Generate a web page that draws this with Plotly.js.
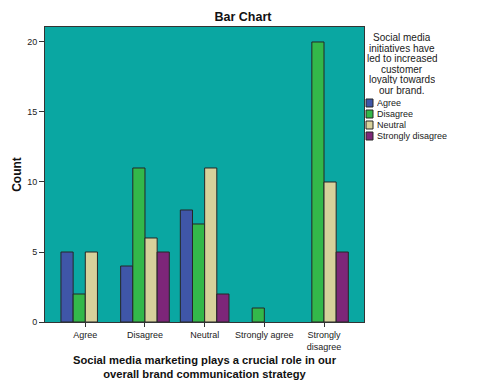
<!DOCTYPE html>
<html>
<head>
<meta charset="utf-8">
<script src="https://cdn.plot.ly/plotly-3.0.1.min.js"></script>
<style>html,body{margin:0;padding:0;background:#fff;}#chart{width:486px;height:388px;}</style>
</head>
<body>
<div id="chart"></div>
<script>
// Categories (x axis): "Social media marketing plays a crucial role..."
const categories = ["Agree", "Disagree", "Neutral", "Strongly agree", "Strongly disagree"];
const tickLabels = ["Agree", "Disagree", "Neutral", "Strongly agree", "Strongly<br>disagree"];

// Series (legend): "Social media initiatives have led to increased customer loyalty..."
const seriesNames = ["Agree", "Disagree", "Neutral", "Strongly disagree"];
const agreeVals           = [5, 4, 8, null, null];
const disagreeVals        = [2, 11, 7, 1, 20];
const neutralVals         = [5, 6, 11, null, 10];
const stronglyDisagreeVals= [null, 5, 2, null, 5];
const seriesValues = [agreeVals, disagreeVals, neutralVals, stronglyDisagreeVals];
const seriesColors = ["#3F56A8", "#33B84A", "#D7D19B", "#7D2679"];

const legendTitleLines = ["Social media", "initiatives have", "led to increased", "customer", "loyalty towards", "our brand."];

const FONT = "Arial, 'Liberation Sans', sans-serif";
const W = 486, H = 388;
const L = 45, R = 364, T = 27, B = 322;
const xp = px => (px - L) / (R - L);
const yp = py => (B - py) / (B - T);

const idx = categories.map((c, i) => i);
const traces = seriesNames.map((name, s) => ({
  type: "bar",
  name: name,
  x: idx,
  y: seriesValues[s],
  marker: {color: seriesColors[s], line: {color: "#262626", width: 1}},
  showlegend: false,
  hoverinfo: "x+y+name"
}));

const annotations = [];
const shapes = [];
legendTitleLines.forEach((line, i) => {
  annotations.push({
    xref: "paper", yref: "paper", x: xp(402), y: yp(37 + i * 10.6),
    xanchor: "center", yanchor: "middle", showarrow: false, height: 10,
    text: line, font: {family: FONT, size: 10, color: "#1a1a1a"}
  });
});
seriesNames.forEach((name, s) => {
  const cy = 103 + s * 11;
  shapes.push({
    type: "rect", xref: "paper", yref: "paper",
    x0: xp(366), x1: xp(373), y0: yp(cy - 4), y1: yp(cy + 4),
    fillcolor: seriesColors[s], line: {color: "#262626", width: 1}
  });
  annotations.push({
    xref: "paper", yref: "paper", x: xp(375), y: yp(cy),
    xanchor: "left", yanchor: "middle", showarrow: false, height: 10,
    text: name, font: {family: FONT, size: 9, color: "#1a1a1a"}
  });
});

const layout = {
  width: W, height: H,
  margin: {l: L, r: W - R, t: T, b: H - B, pad: 0},
  paper_bgcolor: "#ffffff",
  plot_bgcolor: "#0AA7A2",
  font: {family: FONT, size: 9, color: "#222"},
  title: {text: "<b>Bar Chart</b>", font: {family: FONT, size: 12.5, color: "#111"},
          x: 0.5, xref: "container", xanchor: "center", y: 1 - 17 / H, yref: "container", yanchor: "middle"},
  barmode: "group",
  bargap: 0.185,
  bargroupgap: 0,
  showlegend: false,
  xaxis: {
    range: [-0.675, 4.67],
    tickvals: idx, ticktext: tickLabels,
    ticks: "outside", ticklen: 4, tickcolor: "#333", tickwidth: 1,
    showline: true, linecolor: "#333", linewidth: 1, mirror: true,
    showgrid: false, zeroline: false,
    tickfont: {family: FONT, size: 9, color: "#222"},
    title: {text: "<b>Social media marketing plays a crucial role in our<br>overall brand communication strategy</b>",
            font: {family: FONT, size: 11.2, color: "#111"}, standoff: 5}
  },
  yaxis: {
    range: [0, 21.07],
    tickvals: [0, 5, 10, 15, 20],
    ticks: "outside", ticklen: 5, tickcolor: "#333", tickwidth: 1,
    showline: true, linecolor: "#333", linewidth: 1, mirror: true,
    showgrid: false, zeroline: false,
    tickfont: {family: FONT, size: 9, color: "#222"},
    title: {text: "<b>Count</b>", font: {family: FONT, size: 12, color: "#111"}, standoff: 2}
  },
  annotations: annotations,
  shapes: shapes
};

Plotly.newPlot("chart", traces, layout, {displayModeBar: false, staticPlot: true});
</script>
</body>
</html>
